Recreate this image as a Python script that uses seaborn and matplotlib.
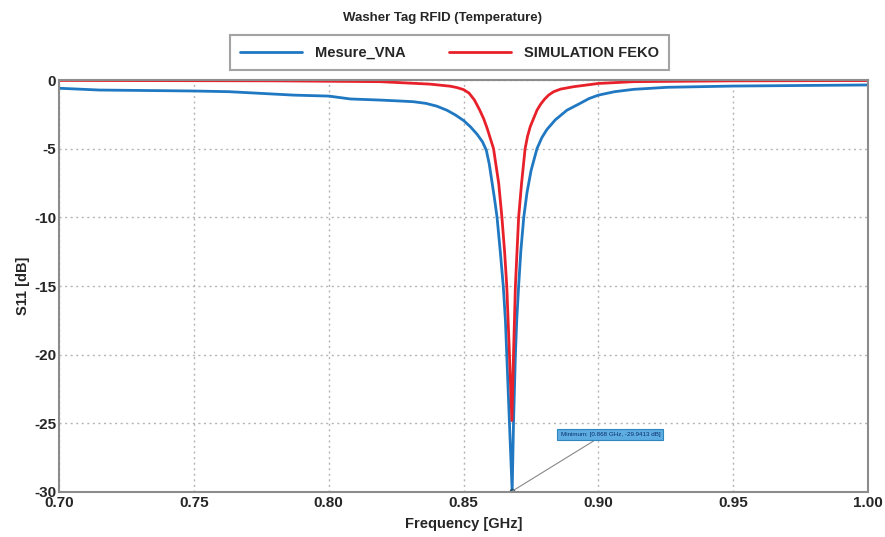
import matplotlib
matplotlib.use("Agg")
import matplotlib.pyplot as plt
import seaborn as sns
import pandas as pd

# ---------------- data ----------------
freq_vna = [0.700, 0.715, 0.750, 0.763, 0.787, 0.800, 0.808, 0.819, 0.8265, 0.8314,
            0.836, 0.840, 0.8438, 0.847, 0.850, 0.8525, 0.855, 0.857, 0.8584, 0.8595,
            0.8605, 0.8615, 0.8624, 0.8636, 0.8647, 0.8655, 0.866, 0.867, 0.868, 0.8685,
            0.8692, 0.8697, 0.8704, 0.8712, 0.8723, 0.8735, 0.8750, 0.8772, 0.879, 0.8809,
            0.884, 0.8883, 0.8932, 0.8965, 0.900, 0.906, 0.913, 0.9255, 0.950, 1.000]
s11_vna = [-0.60, -0.73, -0.80, -0.85, -1.10, -1.17, -1.38, -1.46, -1.53, -1.58,
           -1.70, -1.90, -2.20, -2.55, -2.95, -3.40, -3.95, -4.50, -5.10, -6.10,
           -7.40, -8.70, -10.0, -12.5, -15.0, -17.5, -20.0, -25.0, -29.9413, -25.0,
           -20.0, -17.5, -15.0, -12.5, -10.0, -8.2, -6.6, -5.0, -4.2, -3.6,
           -2.9, -2.2, -1.7, -1.35, -1.10, -0.85, -0.68, -0.53, -0.44, -0.36]

freq_feko = [0.700, 0.780, 0.819, 0.8376, 0.845, 0.8475, 0.850, 0.852, 0.854, 0.856,
             0.8575, 0.8587, 0.8611, 0.862, 0.863, 0.8642, 0.8652, 0.866, 0.867, 0.8679,
             0.8685, 0.8692, 0.8698, 0.8704, 0.8715, 0.8728, 0.8737, 0.8747, 0.8772, 0.8786,
             0.880, 0.8815, 0.8834, 0.886, 0.8907, 0.900, 0.913, 0.950, 1.000]
s11_feko = [-0.03, -0.06, -0.12, -0.30, -0.45, -0.55, -0.70, -0.95, -1.45, -2.2,
            -2.85, -3.5, -5.0, -6.2, -7.5, -10.0, -12.5, -15.0, -20.0, -24.8,
            -20.0, -15.0, -12.5, -10.0, -7.5, -5.0, -4.1, -3.4, -2.2, -1.75,
            -1.4, -1.1, -0.85, -0.66, -0.49, -0.25, -0.12, -0.06, -0.04]

series_names = ["Mesure_VNA", "SIMULATION FEKO"]
x_ticks = [0.70, 0.75, 0.80, 0.85, 0.90, 0.95, 1.00]
y_ticks = [0, -5, -10, -15, -20, -25, -30]
min_freq = 0.868
min_val = -29.9413

# ---------------- style ----------------
sns.set_theme(style="white")
fam = ["Liberation Sans", "DejaVu Sans"]
plt.rcParams["font.family"] = fam

df = pd.concat([
    pd.DataFrame({"freq": freq_vna, "s11": s11_vna, "series": series_names[0]}),
    pd.DataFrame({"freq": freq_feko, "s11": s11_feko, "series": series_names[1]}),
])

fig = plt.figure(figsize=(8.85, 5.37), dpi=100)
ax = fig.add_axes([0.0667, 0.0838, 0.9143, 0.7672])

sns.lineplot(data=df, x="freq", y="s11", hue="series", sort=False,
             palette={series_names[0]: "#1f78c1", series_names[1]: "#e8202a"},
             linewidth=2.0, ax=ax, legend=False, estimator=None)

ax.set_xlim(0.70, 1.00)
ax.set_ylim(-30, 0)
ax.set_xticks(x_ticks)
ax.set_yticks(y_ticks)
ax.set_xticklabels([f"{v:.2f}" for v in x_ticks], fontsize=11, fontweight="bold")
ax.set_yticklabels([f"{v:d}" for v in y_ticks], fontsize=11, fontweight="bold")
ax.tick_params(axis="both", length=0, pad=2)
ax.tick_params(axis="x", pad=3)
ax.set_xlabel("Frequency [GHz]", fontsize=10.5, fontweight="bold", labelpad=5)
ax.set_ylabel("S11 [dB]", fontsize=10.5, fontweight="bold", labelpad=3)

ax.grid(True, linestyle=(0, (1.5, 2.5)), color="#b5b5b5", linewidth=1.0)
for s in ax.spines.values():
    s.set_visible(True)
    s.set_color("#8c8c8c")
    s.set_linewidth(1.5)

# legend
handles = [plt.Line2D([], [], color="#1f78c1", lw=2.0),
           plt.Line2D([], [], color="#e8202a", lw=2.0)]
leg = fig.legend(handles, series_names, loc="center", bbox_to_anchor=(0.508, 0.902),
                 ncol=2, frameon=True, fancybox=False, edgecolor="#8c8c8c",
                 handlelength=4.2, columnspacing=3.0, borderpad=0.7, handletextpad=0.9,
                 prop={"weight": "bold", "size": 10.5, "family": fam})
leg.get_frame().set_linewidth(1.5)

fig.suptitle("Washer Tag RFID (Temperature)", y=0.977, fontsize=9.5, fontweight="bold")

# minimum annotation
ax.annotate(f"Minimum: [{min_freq:.3f} GHz, {min_val:.4f} dB]",
            xy=(min_freq, min_val), xytext=(0.9044, -25.84),
            ha="center", va="center", fontsize=4.5, color="#0b2f6b",
            bbox=dict(boxstyle="square,pad=0.5", facecolor="#5dade2", edgecolor="#2e86c1", lw=0.8),
            arrowprops=dict(arrowstyle="-", color="#888888", lw=0.8, relpos=(0.39, 0.0),
                            shrinkA=0, shrinkB=0))
ax.plot([min_freq], [min_val], marker="o", ms=3, color="#1b4f72")

fig.savefig("out.png", dpi=100)
